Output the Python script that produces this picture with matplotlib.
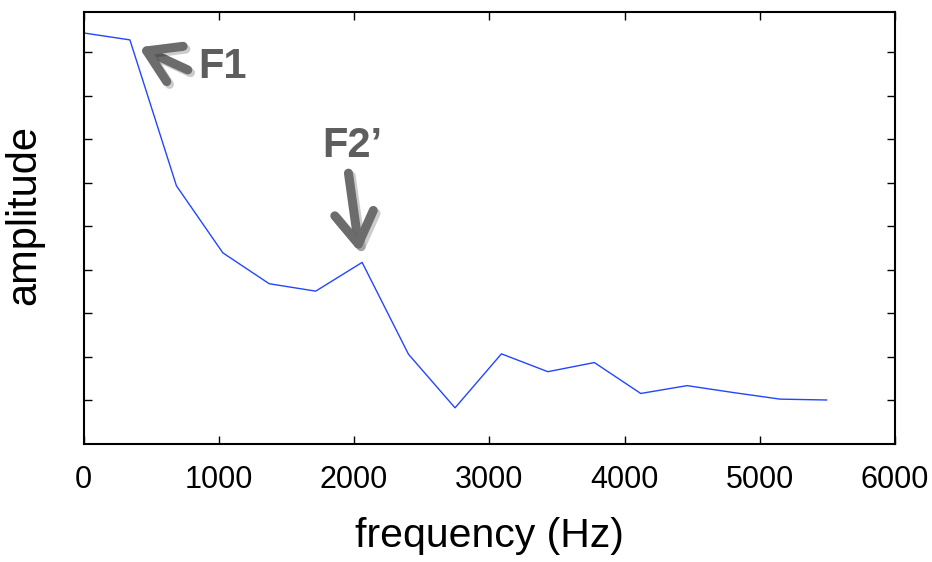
import matplotlib
matplotlib.use('Agg')
import matplotlib.pyplot as plt
import matplotlib.patheffects as pe

plt.rcParams['font.family'] = ['Liberation Sans', 'DejaVu Sans']

# spectrum (amplitude has no units / labels)
freq = [0, 343, 687, 1030, 1373, 1717, 2060, 2403, 2747, 3090,
        3433, 3777, 4120, 4463, 4807, 5150, 5494]
amp = [9.44, 9.28, 5.93, 4.39, 3.68, 3.51, 4.17, 2.06, 0.83, 2.07,
       1.66, 1.87, 1.16, 1.34, 1.18, 1.03, 1.01]

xticks = [0, 1000, 2000, 3000, 4000, 5000, 6000]
yticks = [1, 2, 3, 4, 5, 6, 7, 8, 9]

fig = plt.figure(figsize=(9.32, 5.62), dpi=100)
ax = fig.add_axes([0.0896, 0.21, 0.8707, 0.7686])

ax.plot(freq, amp, color='#2346ff', lw=1.0)

ax.set_xlim(0, 6000)
ax.set_ylim(0, 9.92)
ax.set_xticks(xticks)
ax.set_yticks(yticks)
ax.set_yticklabels([])
ax.tick_params(direction='in', length=6, width=1, top=True, right=True,
               labelsize=22, pad=15)
for s in ax.spines.values():
    s.set_linewidth(1.5)

ax.set_xlabel('frequency (Hz)', fontsize=29.5, labelpad=16)
ax.set_ylabel('amplitude', fontsize=30)
ax.yaxis.set_label_coords(-0.048, 0.53)

grey = '#5e5e5e'
shadow = [pe.SimpleLineShadow(offset=(2, -2), shadow_color='k', alpha=0.2),
          pe.Normal()]
arrow = dict(arrowstyle='->,head_length=0.8,head_width=0.5', lw=6.5,
             color='#6c6c6c', shrinkA=0, shrinkB=0, capstyle='round',
             joinstyle='round', mutation_scale=28, path_effects=shadow)

ax.annotate('', xy=(410, 9.11), xytext=(771, 8.59), arrowprops=arrow)
ax.annotate('', xy=(2041, 4.40), xytext=(1959, 6.22), arrowprops=arrow)
ax.text(845, 8.40, 'F1', fontsize=30, fontweight='bold', color=grey,
        va='baseline', ha='left')
ax.text(1768, 6.59, 'F2\u2019', fontsize=30, fontweight='bold', color=grey,
        va='baseline', ha='left')

fig.savefig('out.png', dpi=100)
